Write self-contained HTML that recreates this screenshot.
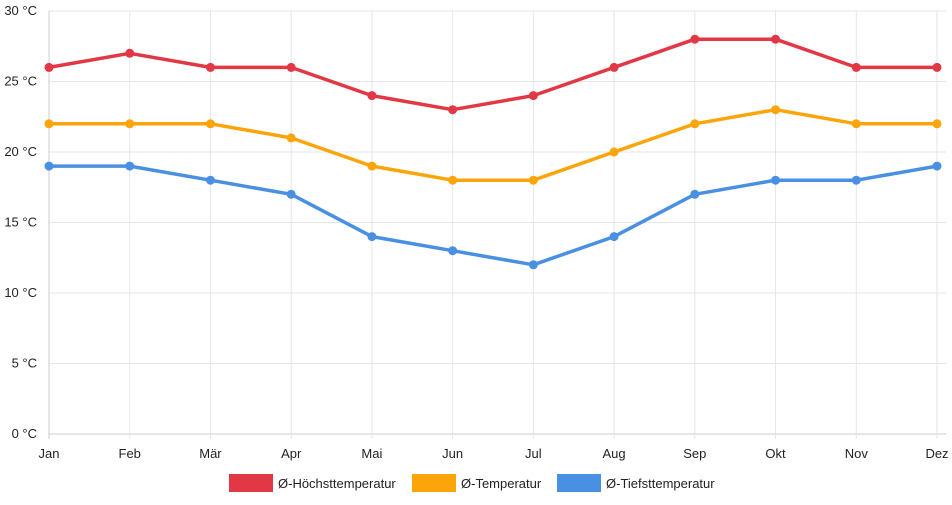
<!DOCTYPE html>
<html><head><meta charset="utf-8"><style>
body{margin:0;background:#fff;font-family:"Liberation Sans",sans-serif}
svg text{font-family:"Liberation Sans",sans-serif;font-size:13px;fill:#222}
</style></head><body>
<svg id="c" width="952" height="500"></svg>
<script>
const months=["Jan","Feb","Mär","Apr","Mai","Jun","Jul","Aug","Sep","Okt","Nov","Dez"];
const highTemps=[26,27,26,26,24,23,24,26,28,28,26,26];
const meanTemps=[22,22,22,21,19,18,18,20,22,23,22,22];
const lowTemps=[19,19,18,17,14,13,12,14,17,18,18,19];
const yTicks=[0,5,10,15,20,25,30];
const seriesNames=["Ø-Höchsttemperatur","Ø-Temperatur","Ø-Tiefsttemperatur"];
const colors=["#e23744","#fba50a","#4a90e2"];
const svg=document.getElementById('c');const NS="http://www.w3.org/2000/svg";
const x0=49,x1=937,y0=434,y1=11;
const xs=i=>x0+(x1-x0)*i/(months.length-1);
const ys=v=>y0-(y0-y1)*v/30;
function el(t,a,p){const e=document.createElementNS(NS,t);for(const k in a)e.setAttribute(k,a[k]);(p||svg).appendChild(e);return e;}
yTicks.forEach(v=>{
 const l=el('line',{x1:x0,x2:x1+9,y1:ys(v),y2:ys(v),stroke:v===0?'#ccc':'#e6e6e6'});
 
 const t=el('text',{x:37,y:ys(v)+4,'text-anchor':'end'});t.textContent=v+' °C';
 
});
months.forEach((m,i)=>{
 const l=el('line',{x1:xs(i),x2:xs(i),y1:y1,y2:y0+5,stroke:i===0?'#ccc':'#e6e6e6'});
 
 const t=el('text',{x:xs(i),y:458,'text-anchor':'middle'});t.textContent=m;
 
});
[highTemps,meanTemps,lowTemps].forEach((d,s)=>{
 const p=el('polyline',{points:d.map((v,i)=>xs(i)+','+ys(v)).join(' '),fill:'none',stroke:colors[s],'stroke-width':3.5,'stroke-linejoin':'round'});
 
 d.forEach((v,i)=>{const c=el('circle',{cx:xs(i),cy:ys(v),r:4.5,fill:colors[s]});
  });
});
const lx=[229,412,557];
seriesNames.forEach((n,s)=>{
 const g=el('g',{});
 el('rect',{x:lx[s],y:474,width:44,height:18,fill:colors[s]},g);
 const t=el('text',{x:lx[s]+49,y:488},g);t.textContent=n;
});
</script></body></html>
